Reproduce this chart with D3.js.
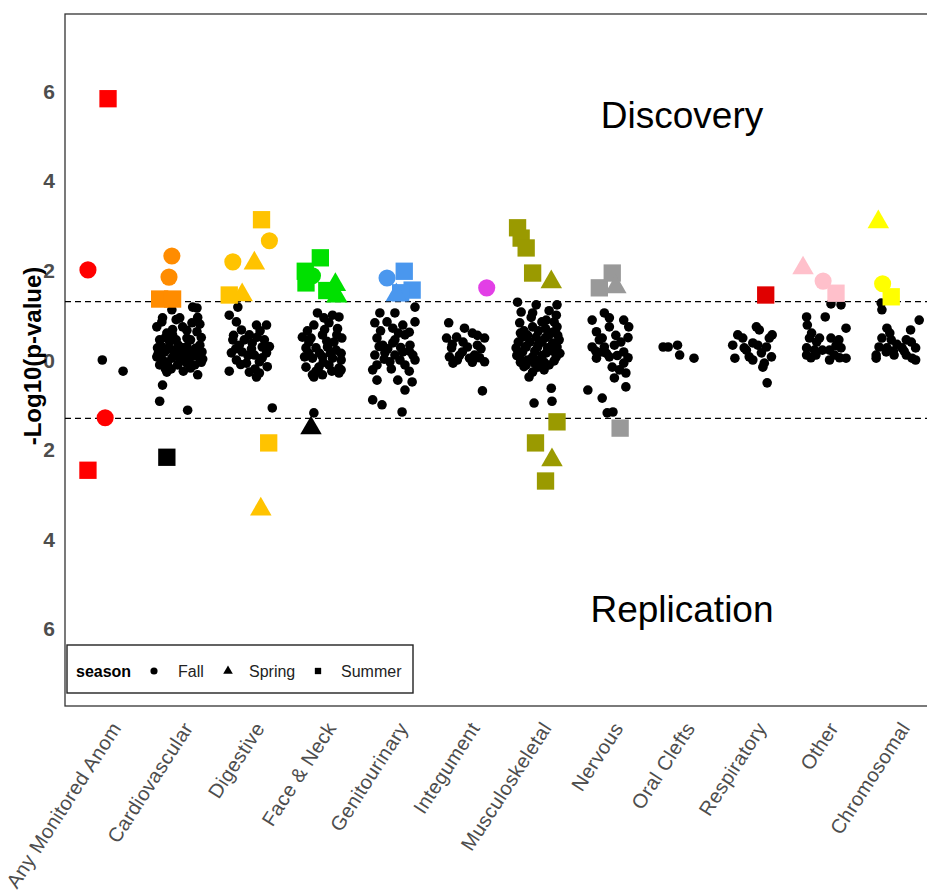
<!DOCTYPE html>
<html>
<head>
<meta charset="utf-8">
<script src="https://cdn.jsdelivr.net/npm/d3@7"></script>
<style>
  body { margin: 0; background: #fff; }
  svg { font-family: Arial, "Liberation Sans", sans-serif; }
</style>
</head>
<body>
<svg id="chart" width="927" height="896"></svg>
<script>
// categories along x, in plot order
const categories = ["Any Monitored Anom", "Cardiovascular", "Digestive", "Face & Neck", "Genitourinary",
  "Integument", "Musculoskeletal", "Nervous", "Oral Clefts", "Respiratory", "Other", "Chromosomal"]
const seasons = ["Fall", "Spring", "Summer"]
const yTicks = [-6, -4, -2, 0, 2, 4, 6]
const pThreshold = 1.301   // -log10(0.05)

// non-significant estimates per category: [jitter, signed -log10 p]
const dotsAny = [[-0.08, 0.0], [0.21, -0.25]]
const dotsCardio = [[-0.11,1.12],[0.18,1.18],[0.24,1.16],[-0.24,0.94],[-0.32,0.74],[0,0.94],[0.04,0.74],[0.17,0.83],
  [-0.18,0.6],[-0.1,0.56],[0.24,0.63],[-0.28,0.45],[-0.14,0.4],[0.1,0.49],[0.28,0.33],[-0.31,0.27],[-0.21,0.18],
  [-0.07,0.22],[0.04,0.27],[0.18,0.18],[0.31,0.18],[-0.32,0.07],[-0.24,0],[-0.11,0.04],[0,0.04],[0.14,0.04],
  [0.28,0.04],[-0.28,-0.11],[-0.17,-0.11],[-0.03,-0.11],[0.1,-0.07],[0.21,-0.11],[-0.18,-0.27],[0.25,-0.33],
  [-0.24,-0.56],[-0.28,-0.92],[0.11,-1.12],[-0.2,0.5],[-0.05,0.45],[0.15,0.45],[0.3,0.5],[-0.25,0.3],[0.1,0.3],
  [-0.15,0.25],[0.22,0.26],[-0.08,0.12],[0.08,0.1],[0.22,0.1],[-0.3,0.15],[0.05,-0.02],[-0.18,-0.05],[0.3,-0.05],
  [-0.1,0.68],[0.1,0.66],[0.28,0.8],[-0.25,0.85],[0,0.2],[0.13,0.18],[-0.02,0.33],[0.32,0.02],[-0.12,-0.2],[0.15,-0.18],
  [-0.05,0.9],[0.25,0.95],[-0.2,-0.2],[0.05,-0.25]]
const dotsDigestive = [[-0.19,1.18],[-0.31,1.0],[-0.21,0.85],[0.07,0.78],[0.21,0.78],[-0.14,0.67],[-0.03,0.56],
  [0.08,0.51],[-0.26,0.45],[-0.17,0.33],[0.01,0.38],[0.15,0.29],[-0.28,0.16],[-0.13,0.18],[0.04,0.11],[0.21,0.16],
  [-0.21,0],[-0.07,-0.07],[0.11,-0.04],[-0.03,-0.27],[0.11,-0.29],[0.07,-0.38],[-0.31,-0.25],[0.29,-1.07],
  [-0.1,0.45],[0.18,0.45],[-0.22,0.25],[0,0.25],[0.25,0.3],[-0.05,0.1],[0.15,0.05],[-0.15,-0.1],[0.22,-0.15],
  [0.05,-0.2],[-0.25,0.55],[0.12,0.65]]
const dotsFace = [[-0.08,1.05],[0.01,0.94],[0.13,1.0],[0.22,0.96],[-0.13,0.78],[0.08,0.83],[-0.29,0.51],[-0.17,0.49],
  [-0.01,0.56],[0.19,0.56],[0.26,0.49],[-0.24,0.27],[-0.1,0.27],[0.06,0.29],[0.18,0.22],[-0.26,0.07],[-0.15,0.04],
  [-0.01,0.07],[0.13,0.04],[0.25,0],[-0.24,-0.16],[-0.06,-0.16],[0.08,-0.11],[0.22,-0.18],[-0.15,-0.33],[-0.01,-0.33],
  [0.22,-0.29],[-0.13,-0.38],[0.25,-0.22],[-0.13,-1.18],[-0.2,0.4],[0.05,0.42],[0.15,0.4],[-0.05,0.15],[0.1,0.15],
  [0.25,0.15],[-0.2,0.15],[0,-0.05],[-0.1,-0.25],[0.12,-0.25],[0.02,0.68],[0.2,0.7],[-0.22,0.65]]
const dotsGenito = [[-0.21,1.05],[0,1.05],[0.28,1.18],[-0.28,0.83],[-0.11,0.85],[-0.03,0.71],[0.11,0.78],[0.28,0.85],
  [-0.25,0.49],[-0.17,0.33],[-0.03,0.38],[0.14,0.56],[0.21,0.33],[-0.28,0.11],[-0.14,0.16],[0,0.11],[0.11,0.18],
  [0.25,0.11],[-0.25,-0.11],[-0.07,-0.04],[0.14,-0.11],[0.28,0],[-0.31,-0.22],[-0.25,-0.45],[0.04,-0.45],[0.24,-0.49],
  [0.14,-0.67],[-0.31,-0.89],[-0.18,-1.0],[0.1,-1.16],[-0.2,0.65],[0.05,0.6],[0.2,0.62],[-0.1,0.25],[0.08,0.28],
  [0.2,0.2],[-0.22,0.3],[0,0.45],[-0.05,-0.2],[0.2,-0.25],[-0.15,0.02],[0.07,0]]
const dotsInteg = [[-0.25,0.83],[-0.03,0.71],[0.08,0.6],[-0.28,0.49],[-0.14,0.51],[0.25,0.49],[0.01,0.29],[0.15,0.33],
  [-0.21,0.27],[-0.06,0.18],[0.11,0.11],[-0.24,0.07],[-0.13,0],[0.04,0.04],[-0.19,-0.07],[0.25,-0.04],[0.22,-0.69],
  [0.15,0.55],[-0.05,0.4],[0.2,0.25],[-0.1,0.1],[0.08,-0.05],[0.18,0.05],[-0.2,0.35]]
const dotsMusculo = [[-0.29,1.29],[-0.03,1.23],[0.26,1.23],[-0.24,1.07],[-0.08,1.05],[0.25,1.0],[-0.26,0.83],[-0.08,0.74],
  [0.11,0.89],[0.26,0.74],[-0.22,0.51],[-0.03,0.51],[0.15,0.56],[0.29,0.45],[-0.31,0.27],[-0.17,0.29],[-0.01,0.29],
  [0.13,0.27],[0.26,0.29],[-0.26,0.07],[-0.08,0.07],[0.11,0.16],[0.25,0.07],[-0.17,-0.11],[-0.01,-0.16],[0.15,-0.11],
  [-0.08,-0.27],[-0.13,-0.38],[0.18,-0.63],[-0.06,-0.96],[0.19,-0.92],[-0.2,0.65],[0,0.65],[0.2,0.62],[-0.12,0.4],
  [0.05,0.4],[0.2,0.38],[-0.28,0.4],[-0.22,0.18],[-0.05,0.2],[0.05,0.1],[0.2,0.2],[0.3,0.15],[-0.3,0.1],[-0.15,0],
  [0.02,0],[0.08,-0.05],[0.22,-0.02],[-0.25,-0.05],[-0.05,-0.08],[0.1,0.5],[-0.1,0.95],[0.15,1.1],[0.05,0.85],
  [-0.18,0.3],[0,0.35],[0.27,0.55],[-0.2,-0.15],[0.08,-0.22],[-0.15,0.55],[0.1,0.7],[-0.25,0.6],[0.22,0.85]]
const dotsNervous = [[-0.08,1.05],[-0.01,0.94],[-0.25,0.89],[0.19,0.89],[-0.19,0.63],[-0.01,0.74],[0.26,0.74],[-0.11,0.49],
  [0.15,0.4],[-0.25,0.29],[-0.08,0.29],[0.06,0.33],[0.19,0.18],[-0.19,0.04],[-0.01,0.07],[-0.11,0.18],[0.03,-0.16],
  [0.19,-0.07],[0.13,-0.22],[0.22,-0.29],[0.06,-0.4],[0.22,-0.6],[-0.31,-0.67],[-0.11,-0.85],[-0.04,-1.18],[0.04,-1.16],
  [-0.15,0.45],[0.08,0.55],[0.25,0.5],[-0.05,0.15],[0.1,0.1],[-0.2,0.2],[0.25,0.05]]
const dotsOral = [[-0.26,0.29],[-0.19,0.29],[-0.06,0.33],[-0.03,0.11],[0.17,0.04]]
const dotsResp = [[0.04,0.74],[0.08,0.67],[0.26,0.56],[-0.22,0.56],[-0.15,0.49],[-0.29,0.33],[-0.01,0.38],[-0.13,0.27],
  [0.06,0.33],[0.18,0.29],[-0.1,0.22],[-0.06,0.07],[0.11,0.16],[0.25,0.07],[-0.26,0.04],[-0.01,0],[0.15,-0.07],
  [0.13,-0.16],[0.19,-0.51],[0.22,0.49]]
const dotsOther = [[0.08,1.25],[0.22,1.23],[-0.26,0.96],[0,0.96],[-0.25,0.78],[0.29,0.71],[-0.19,0.6],[-0.22,0.49],
  [-0.08,0.49],[0.08,0.49],[0.19,0.45],[-0.26,0.27],[-0.15,0.22],[-0.04,0.22],[0.06,0.22],[0.22,0.27],[-0.26,0.11],
  [-0.13,0.11],[0.13,0.11],[0.06,0],[0.29,0.04],[-0.12,0.4],[0.15,0.32],[-0.2,0.05],[0.2,0.05]]
const dotsChromo = [[-0.22,1.27],[-0.21,1.12],[0.31,0.89],[-0.14,0.71],[0.19,0.67],[-0.21,0.49],[-0.08,0.45],[0.13,0.45],
  [-0.25,0.29],[-0.14,0.27],[0.07,0.27],[0.26,0.27],[-0.29,0.11],[-0.15,0.18],[-0.04,0.11],[0.13,0.11],[0.21,0.04],
  [-0.29,0.04],[0.26,0],[-0.1,0.6],[0,0.35],[0.2,0.4],[-0.05,0.2],[0.1,0.2]]
const dotsByCategory = [dotsAny, dotsCardio, dotsDigestive, dotsFace, dotsGenito, dotsInteg,
  dotsMusculo, dotsNervous, dotsOral, dotsResp, dotsOther, dotsChromo]

// significant hits: [category index, jitter, -log10 p, season]
const discoveryHits = [
  [0, 0, 5.83, "Summer"], [0, -0.28, 2.01, "Fall"],
  [1, -0.11, 2.32, "Fall"], [1, -0.15, 1.85, "Fall"], [1, -0.28, 1.36, "Summer"], [1, -0.1, 1.36, "Summer"],
  [2, 0.14, 3.13, "Summer"], [2, 0.25, 2.66, "Fall"], [2, -0.26, 2.19, "Fall"], [2, 0.04, 2.16, "Spring"],
  [2, -0.31, 1.45, "Summer"], [2, -0.13, 1.45, "Spring"],
  [3, -0.04, 2.28, "Summer"], [3, -0.25, 1.98, "Summer"], [3, -0.15, 1.88, "Fall"], [3, -0.24, 1.72, "Summer"],
  [3, 0.17, 1.68, "Spring"], [3, 0.05, 1.55, "Summer"], [3, 0.19, 1.42, "Spring"],
  [4, -0.11, 1.83, "Fall"], [4, 0.13, 1.98, "Summer"], [4, 0.24, 1.56, "Summer"], [4, 0.08, 1.5, "Summer"],
  [4, 0.02, 1.45, "Spring"],
  [5, 0.28, 1.61, "Fall"],
  [6, -0.29, 2.95, "Summer"], [6, -0.24, 2.72, "Summer"], [6, -0.17, 2.5, "Summer"], [6, -0.08, 1.94, "Summer"],
  [6, 0.18, 1.74, "Spring"],
  [7, -0.15, 1.61, "Summer"], [7, 0.03, 1.94, "Summer"], [7, 0.08, 1.63, "Spring"],
  [9, 0.17, 1.45, "Summer"],
  [10, -0.31, 2.05, "Spring"], [10, -0.03, 1.76, "Fall"], [10, 0.15, 1.49, "Summer"],
  [11, -0.26, 3.08, "Spring"], [11, -0.2, 1.7, "Fall"], [11, -0.08, 1.41, "Summer"]
]
const replicationHits = [
  [0, -0.04, -1.29, "Fall"], [0, -0.28, -2.46, "Summer"],
  [2, 0.24, -1.85, "Summer"], [2, 0.13, -3.33, "Spring"],
  [6, 0.26, -1.38, "Summer"], [6, -0.04, -1.85, "Summer"], [6, 0.19, -2.23, "Spring"], [6, 0.1, -2.7, "Summer"],
  [7, 0.14, -1.52, "Summer"]
]
// replication hits drawn in black
const blackHits = [[1, -0.18, -2.17, "Summer"], [3, -0.17, -1.52, "Spring"]]

const catColors = ["#ff0000", "#ff8c00", "#ffc300", "#00e000", "#4a97ee", "#e23fe6",
  "#9a9a00", "#999999", "#000000", "#e00000", "#ffc0cb", "#ffff00"]

let width = 927, height = 896
let plot = {left: 65, right: 940, top: 14, bottom: 706}

let svg = d3.select('#chart')

let x = d3.scalePoint().domain(d3.range(categories.length)).range([plot.left, plot.right]).padding(0.6)
let y = d3.scaleLinear().domain([-7.72, 7.72]).range([plot.bottom, plot.top])
let step = x.step()

let shapeOf = d3.scaleOrdinal().domain(seasons).range([d3.symbolCircle, d3.symbolTriangle, d3.symbolSquare])
let sizeOf = {Fall: 230, Spring: 200, Summer: 300}

// panel border (right side runs past the picture edge)
svg.append('rect')
  .attr('x', plot.left).attr('y', plot.top)
  .attr('width', plot.right - plot.left + 10).attr('height', plot.bottom - plot.top)
  .attr('fill', 'none').attr('stroke', '#333').attr('stroke-width', 1.3)

// y tick labels (absolute values)
svg.append('g').selectAll('text')
  .data(yTicks)
  .enter().append('text')
  .attr('x', 55).attr('y', d => y(d))
  .attr('dy', '0.36em')
  .attr('text-anchor', 'end')
  .attr('font-size', 21).attr('font-weight', 'bold').attr('fill', '#4d4d4d')
  .text(d => Math.abs(d))

svg.append('text')
  .attr('transform', `translate(41,${(plot.top + plot.bottom) / 2 - 4}) rotate(-90)`)
  .attr('text-anchor', 'middle')
  .attr('font-size', 24).attr('font-weight', 'bold')
  .text('-Log10(p-value)')

// x labels
svg.append('g').selectAll('text')
  .data(categories)
  .enter().append('text')
  .attr('transform', (d, i) => `translate(${x(i) + 14},728) rotate(-57)`)
  .attr('text-anchor', 'end')
  .attr('font-size', 20).attr('letter-spacing', 0.4).attr('fill', '#4d4d4d')
  .text(d => d)

// significance lines
svg.append('g').selectAll('line')
  .data([pThreshold, -pThreshold])
  .enter().append('line')
  .attr('x1', plot.left).attr('x2', width)
  .attr('y1', d => y(d)).attr('y2', d => y(d))
  .attr('stroke', '#000').attr('stroke-width', 1.2).attr('stroke-dasharray', '6,4')

// background dots
let dots = []
dotsByCategory.forEach((arr, i) => arr.forEach(p => dots.push({cat: i, j: p[0], v: p[1]})))

svg.append('g').selectAll('circle')
  .data(dots)
  .enter().append('circle')
  .attr('cx', d => x(d.cat) + d.j * step)
  .attr('cy', d => y(d.v))
  .attr('r', 4.8)
  .attr('fill', '#000')

// hits
let hits = discoveryHits.concat(replicationHits).map(h => ({cat: h[0], j: h[1], v: h[2], s: h[3], black: false}))
  .concat(blackHits.map(h => ({cat: h[0], j: h[1], v: h[2], s: h[3], black: true})))

svg.append('g').selectAll('path')
  .data(hits)
  .enter().append('path')
  .attr('transform', d => `translate(${x(d.cat) + d.j * step},${y(d.v)})`)
  .attr('d', d => d3.symbol().type(shapeOf(d.s)).size(sizeOf[d.s])())
  .attr('fill', d => d.black ? '#000' : catColors[d.cat])

// panel annotations
svg.append('text')
  .attr('x', 682).attr('y', 128)
  .attr('text-anchor', 'middle').attr('font-size', 37)
  .text('Discovery')
svg.append('text')
  .attr('x', 682).attr('y', 622)
  .attr('text-anchor', 'middle').attr('font-size', 37)
  .text('Replication')

// legend
let lg = svg.append('g')
lg.append('rect')
  .attr('x', 67).attr('y', 645).attr('width', 346).attr('height', 48)
  .attr('fill', '#fff').attr('stroke', '#222').attr('stroke-width', 1.4)
lg.append('text')
  .attr('x', 76).attr('y', 677)
  .attr('font-size', 16).attr('font-weight', 'bold')
  .text('season')

let legendItems = [
  {s: 'Fall', mx: 154, tx: 178},
  {s: 'Spring', mx: 228, tx: 249},
  {s: 'Summer', mx: 318, tx: 341}
]
lg.selectAll('path')
  .data(legendItems)
  .enter().append('path')
  .attr('transform', d => `translate(${d.mx},671)`)
  .attr('d', d => d3.symbol().type(shapeOf(d.s)).size(40)())
  .attr('fill', '#000')
lg.selectAll('text.item')
  .data(legendItems)
  .enter().append('text')
  .attr('class', 'item')
  .attr('x', d => d.tx).attr('y', 677)
  .attr('font-size', 16).attr('fill', '#222')
  .text(d => d.s)
</script>
</body>
</html>
